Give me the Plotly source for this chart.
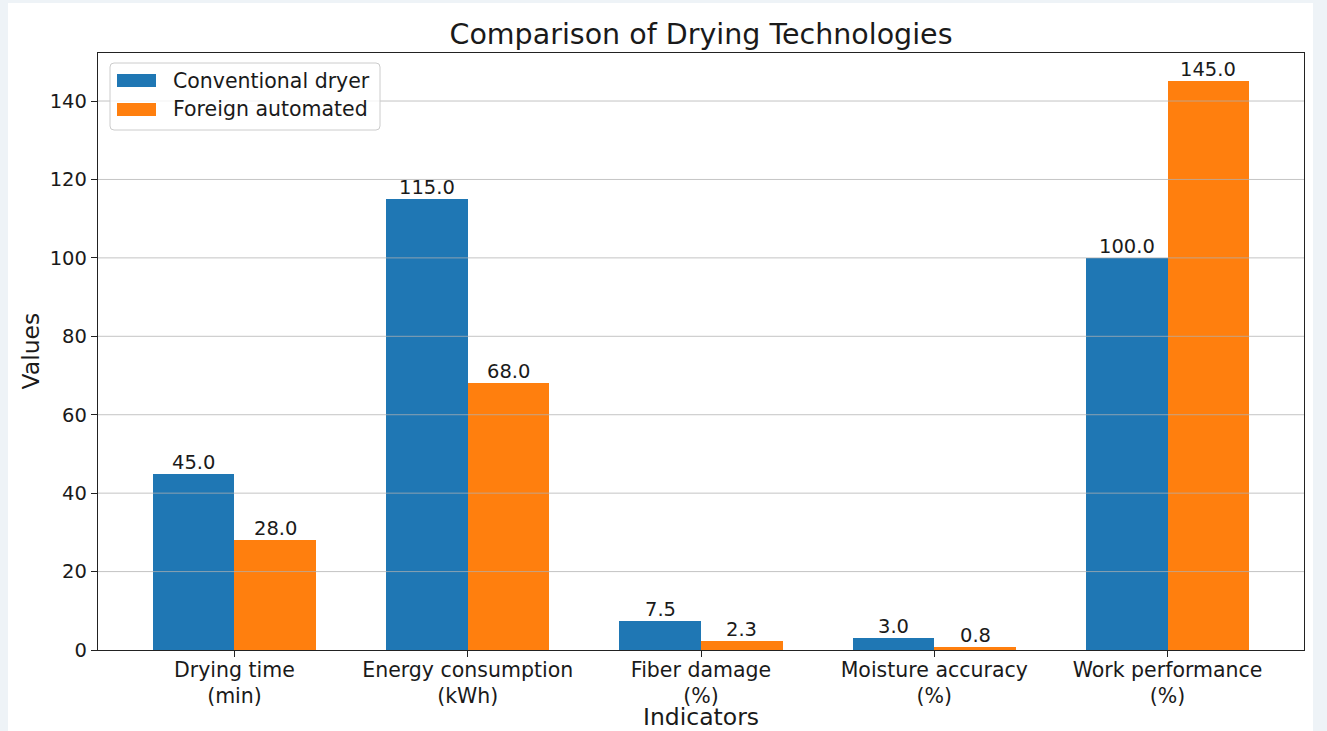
import plotly.graph_objects as go

# Indicators compared (tick labels, two lines each)
categories = ["Drying time<br>(min)", "Energy consumption<br>(kWh)", "Fiber damage<br>(%)",
              "Moisture accuracy<br>(%)", "Work performance<br>(%)"]
conventional = [45.0, 115.0, 7.5, 3.0, 100.0]
foreign = [28.0, 68.0, 2.3, 0.8, 145.0]
series_names = ["Conventional dryer", "Foreign automated"]
y_ticks = [0, 20, 40, 60, 80, 100, 120, 140]

BLUE = "#1f77b4"
ORANGE = "#ff7f0e"
TEXT = "#1a1a1a"
FONT = "DejaVu Sans"

W, H = 1327, 731
ML, MR, MT, MB = 98, 23, 53, 81
PW, PH = W - ML - MR, H - MT - MB

bar_w = 0.35
idx = list(range(len(categories)))
x_conv = [i - bar_w / 2 for i in idx]
x_for = [i + bar_w / 2 for i in idx]

y_max = max(conventional + foreign) * 1.05
x_min = -bar_w - 0.05 * (len(categories) - 1 + 2 * bar_w)
x_max = len(categories) - 1 + bar_w + 0.05 * (len(categories) - 1 + 2 * bar_w)


def px_x(X):
    return (X - ML) / PW


def px_y(Y):
    return (H - MB - Y) / PH


fig = go.Figure()
fig.add_trace(go.Bar(x=x_conv, y=conventional, width=bar_w, marker_color=BLUE,
                     marker_line_width=0, name=series_names[0], showlegend=False))
fig.add_trace(go.Bar(x=x_for, y=foreign, width=bar_w, marker_color=ORANGE,
                     marker_line_width=0, name=series_names[1], showlegend=False))

annotations = []
# value labels above each bar
for xs, vals in ((x_conv, conventional), (x_for, foreign)):
    for x, v in zip(xs, vals):
        annotations.append(dict(x=x, y=v, xref="x", yref="y", text=f"{v:.1f}",
                                showarrow=False, yanchor="bottom", yshift=-2,
                                font=dict(family=FONT, size=19.5, color=TEXT)))

shapes = []
# horizontal grid drawn over the bars
for t in y_ticks[1:]:
    shapes.append(dict(type="line", xref="paper", yref="y", x0=0, x1=1, y0=t, y1=t,
                       line=dict(color="rgba(176,176,176,0.75)", width=1), layer="above"))

# white card behind the chart
shapes.append(dict(type="rect", xref="paper", yref="paper",
                   x0=px_x(8), x1=px_x(1313), y0=px_y(731), y1=px_y(3),
                   fillcolor="white", line_width=0, layer="below"))

# legend frame and patches
lx0, lx1, ly0, ly1, r = 110, 380, 63, 130, 4
path = (f"M{px_x(lx0 + r)},{px_y(ly0)} L{px_x(lx1 - r)},{px_y(ly0)} "
        f"Q{px_x(lx1)},{px_y(ly0)} {px_x(lx1)},{px_y(ly0 + r)} "
        f"L{px_x(lx1)},{px_y(ly1 - r)} Q{px_x(lx1)},{px_y(ly1)} {px_x(lx1 - r)},{px_y(ly1)} "
        f"L{px_x(lx0 + r)},{px_y(ly1)} Q{px_x(lx0)},{px_y(ly1)} {px_x(lx0)},{px_y(ly1 - r)} "
        f"L{px_x(lx0)},{px_y(ly0 + r)} Q{px_x(lx0)},{px_y(ly0)} {px_x(lx0 + r)},{px_y(ly0)} Z")
shapes.append(dict(type="path", xref="paper", yref="paper", path=path,
                   fillcolor="rgba(255,255,255,0.8)",
                   line=dict(color="rgba(204,204,204,1)", width=1), layer="above"))
for (py0, py1), col, name in (((74, 87), BLUE, series_names[0]),
                              ((103, 116), ORANGE, series_names[1])):
    shapes.append(dict(type="rect", xref="paper", yref="paper",
                       x0=px_x(117), x1=px_x(156), y0=px_y(py1), y1=px_y(py0),
                       fillcolor=col, line_width=0, layer="above"))
    annotations.append(dict(x=px_x(171), y=px_y((py0 + py1) / 2), xref="paper", yref="paper",
                            text=name, showarrow=False, xanchor="left", yanchor="middle",
                            font=dict(family=FONT, size=20.5, color=TEXT)))

# axis titles
annotations.append(dict(x=0.5, y=px_y(717), xref="paper", yref="paper", text="Indicators",
                        showarrow=False, xanchor="center", yanchor="middle",
                        font=dict(family=FONT, size=23.5, color=TEXT)))
annotations.append(dict(x=px_x(30), y=0.5, xref="paper", yref="paper", text="Values",
                        showarrow=False, xanchor="center", yanchor="middle", textangle=-90,
                        font=dict(family=FONT, size=23.5, color=TEXT)))

fig.update_layout(
    width=W, height=H,
    margin=dict(l=ML, r=MR, t=MT, b=MB),
    paper_bgcolor="#eef3f7",
    plot_bgcolor="white",
    barmode="overlay",
    bargap=0,
    title=dict(text="Comparison of Drying Technologies", x=0.5, xref="paper",
               y=1 - 34 / H, yanchor="middle", xanchor="center",
               font=dict(family=FONT, size=28.5, color=TEXT)),
    font=dict(family=FONT, size=19.5, color=TEXT),
    shapes=shapes,
    annotations=annotations,
    showlegend=False,
)
fig.update_xaxes(range=[x_min, x_max], tickmode="array", tickvals=idx, ticktext=categories,
                 showgrid=False, zeroline=False, showline=True, mirror=True,
                 linecolor="#222222", linewidth=1.3, ticks="outside", ticklen=6,
                 tickcolor="#222222", tickwidth=1.2, ticklabelstandoff=-5,
                 tickfont=dict(family=FONT, size=20.5, color=TEXT))
fig.update_yaxes(range=[0, y_max], tickmode="array", tickvals=y_ticks,
                 showgrid=False, zeroline=False, showline=True, mirror=True,
                 linecolor="#222222", linewidth=1.3, ticks="outside", ticklen=6,
                 tickcolor="#222222", tickwidth=1.2,
                 tickfont=dict(family=FONT, size=19.5, color=TEXT))

fig.write_html("out.html")
